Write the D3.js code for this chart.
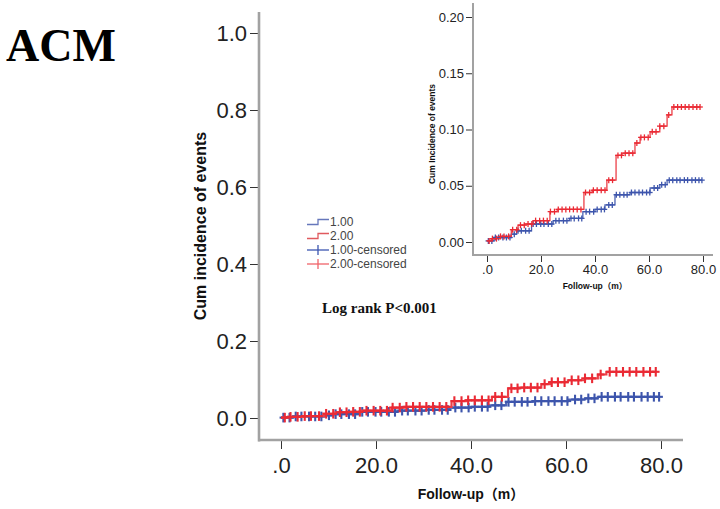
<!DOCTYPE html>
<html><head><meta charset="utf-8">
<script src="https://cdn.jsdelivr.net/npm/d3@7"></script>
<style>body{margin:0;background:#fff}svg{display:block}</style>
</head><body>
<script>
// ---- data ----
const xTicks = [0, 20, 40, 60, 80];
const xTickLabels = [".0", "20.0", "40.0", "60.0", "80.0"];
const yTicks = [0, 0.2, 0.4, 0.6, 0.8, 1.0];
const yTickLabels = ["0.0", "0.2", "0.4", "0.6", "0.8", "1.0"];
const insetYTicks = [0, 0.05, 0.10, 0.15, 0.20];
const insetYTickLabels = ["0.00", "0.05", "0.10", "0.15", "0.20"];

// group 1.00 (blue) step function
const g1Times  = [0, 2.6, 9.0, 11.0, 16.5, 24.5, 30.5, 35.5, 40.0, 43.7, 47.4, 53.0, 60.4, 64.0, 66.7];
const g1Values = [0.001, 0.004, 0.007, 0.010, 0.016, 0.019, 0.021, 0.027, 0.029, 0.033, 0.042, 0.044, 0.048, 0.051, 0.055];
const g1End = 79.6;
const g1Censored = [0.5, 1.8, 3.1, 4.3, 5.9, 7.2, 8.5, 10.1, 11.5, 12.7, 14.3, 15.6, 17.1, 18.3, 19.9, 21.1, 22.7, 24.0, 25.5, 26.7, 28.3, 29.6, 31.1, 32.3, 33.9, 35.1, 36.7, 38.0, 39.5, 40.8, 42.3, 43.5, 45.1, 46.4, 47.9, 49.2, 50.7, 51.9, 53.5, 54.8, 56.3, 57.6, 59.1, 60.3, 61.9, 63.2, 64.7, 66.0, 67.5, 68.8, 70.3, 71.5, 73.1, 74.3, 75.9, 77.2, 78.5, 79.6];

// group 2.00 (red) step function
const g2Times  = [0, 1.5, 5.0, 9.0, 11.5, 14.0, 17.0, 23.3, 26.0, 35.9, 39.0, 44.4, 47.8, 50.0, 54.8, 56.7, 60.4, 64.0, 66.7, 68.5];
const g2Values = [0.001, 0.003, 0.005, 0.011, 0.015, 0.016, 0.019, 0.027, 0.029, 0.044, 0.046, 0.055, 0.077, 0.079, 0.088, 0.093, 0.098, 0.103, 0.113, 0.120];
const g2End = 78.9;
const g2Censored = [0.8, 2.0, 3.5, 5.0, 6.3, 8.0, 9.5, 11.0, 12.4, 13.8, 15.2, 16.6, 18.0, 19.5, 20.9, 22.3, 23.5, 25.0, 26.4, 27.8, 29.2, 30.6, 32.0, 33.4, 34.8, 36.5, 38.0, 39.4, 40.8, 42.3, 43.7, 45.1, 46.5, 48.5, 49.8, 51.2, 52.6, 54.0, 55.5, 57.0, 58.3, 59.7, 61.2, 62.6, 64.0, 65.5, 67.3, 69.2, 70.6, 72.0, 73.4, 74.8, 76.3, 77.7, 78.9];

const legendLabels = ["1.00", "2.00", "1.00-censored", "2.00-censored"];

// ---- styles ----
const BLUE = "#3d55ac", BLUE_LINE = "#4e64b4";
const RED = "#ea2a34", RED_LINE = "#ec4048";
const FRAME = "#a2a2a2";

const svg = d3.select("body").append("svg").attr("width", 720).attr("height", 509);

function stepPoints(times, values, end) {
  const pts = times.map((t, i) => [t, values[i]]);
  pts.push([end, values[values.length - 1]]);
  return pts;
}
function valueAt(times, values, t) {
  let v = values[0];
  for (let i = 0; i < times.length; i++) if (times[i] <= t) v = values[i];
  return v;
}

const series = [
  {times: g1Times, values: g1Values, end: g1End, cens: g1Censored, color: BLUE, line: BLUE_LINE},
  {times: g2Times, values: g2Values, end: g2End, cens: g2Censored, color: RED, line: RED_LINE}
];

function drawPanel(g, x, y, opt) {
  series.forEach(s => {
    const line = d3.line().x(d => x(d[0])).y(d => y(d[1])).curve(d3.curveStepAfter);
    g.append("path").attr("d", line(stepPoints(s.times, s.values, s.end)))
      .attr("fill", "none").attr("stroke", s.line).attr("stroke-width", opt.lw);
    const cg = g.append("g").attr("stroke", s.color).attr("stroke-width", opt.mw);
    s.cens.forEach(t => {
      const cx = x(t), cy = y(valueAt(s.times, s.values, t));
      cg.append("line").attr("x1", cx).attr("x2", cx).attr("y1", cy - opt.mv).attr("y2", cy + opt.mv);
      cg.append("line").attr("x1", cx - opt.mh).attr("x2", cx + opt.mh).attr("y1", cy).attr("y2", cy);
    });
  });
}

// ---- main chart ----
const xMain = d3.scaleLinear().domain([0, 80]).range([281, 661]);
const yMain = d3.scaleLinear().domain([0, 1]).range([418, 33]);

const yAx = svg.append("g").attr("transform", "translate(258,0)")
  .call(d3.axisLeft(yMain).tickValues(yTicks).tickFormat((d, i) => yTickLabels[i]).tickSize(8).tickPadding(3));
yAx.select(".domain").remove();
yAx.selectAll("text").attr("font-family", "Arial, 'Liberation Sans', sans-serif").attr("font-size", 22).attr("fill", "#222");
yAx.selectAll(".tick line").attr("stroke", "#333");

const xAx = svg.append("g").attr("transform", "translate(0,441)")
  .call(d3.axisBottom(xMain).tickValues(xTicks).tickFormat((d, i) => xTickLabels[i]).tickSize(8).tickPadding(8));
xAx.select(".domain").remove();
xAx.selectAll("text").attr("font-family", "Arial, 'Liberation Sans', sans-serif").attr("font-size", 22).attr("fill", "#222");
xAx.selectAll(".tick line").attr("stroke", "#333");

svg.append("line").attr("x1", 259).attr("x2", 259).attr("y1", 12).attr("y2", 441.5).attr("stroke", FRAME).attr("stroke-width", 2.6);
svg.append("line").attr("x1", 258).attr("x2", 683).attr("y1", 440).attr("y2", 440).attr("stroke", FRAME).attr("stroke-width", 2.6);

drawPanel(svg.append("g"), xMain, yMain, {lw: 2.2, mw: 2.1, mv: 4.8, mh: 3.8});

svg.append("text").attr("transform", "translate(206,226) rotate(-90)").attr("text-anchor", "middle")
  .attr("font-family", "Arial, 'Liberation Sans', sans-serif").attr("font-weight", "bold").attr("font-size", 16)
  .attr("fill", "#111").text("Cum incidence of events");
svg.append("text").attr("x", 471).attr("y", 499).attr("text-anchor", "middle")
  .attr("font-family", "Arial, 'Liberation Sans', 'Noto Sans CJK SC', sans-serif").attr("font-weight", "bold").attr("font-size", 14)
  .attr("fill", "#111").text("Follow-up（m）");

// title & annotation
svg.append("text").attr("x", 6).attr("y", 61).attr("font-family", "'Times New Roman', 'Liberation Serif', serif")
  .attr("font-weight", "bold").attr("font-size", 46).attr("fill", "#000").text("ACM");
svg.append("text").attr("x", 322).attr("y", 313).attr("font-family", "'Times New Roman', 'Liberation Serif', serif")
  .attr("font-weight", "bold").attr("font-size", 15).attr("fill", "#111").text("Log rank P<0.001");

// legend
const legY = [222, 236, 250, 264];
const lg = svg.append("g");
legendLabels.forEach((lab, i) => {
  const cy = legY[i];
  if (i < 2) {
    const c = i === 0 ? "#6677bb" : "#e05a5e";
    lg.append("path").attr("d", `M307,${cy + 2.5}H318V${cy - 2.5}H329`).attr("fill", "none").attr("stroke", c).attr("stroke-width", 1.3);
  } else {
    const c = i === 2 ? "#3b55b0" : "#f0646a";
    lg.append("line").attr("x1", 307).attr("x2", 329).attr("y1", cy).attr("y2", cy).attr("stroke", c).attr("stroke-width", 1.3);
    lg.append("line").attr("x1", 318).attr("x2", 318).attr("y1", cy - 5).attr("y2", cy + 5).attr("stroke", c).attr("stroke-width", 1.3);
  }
  lg.append("text").attr("x", 330).attr("y", cy + 4.3).attr("font-family", "Arial, 'Liberation Sans', sans-serif")
    .attr("font-size", 12).attr("fill", "#444").text(lab);
});

// ---- inset ----
const xIn = d3.scaleLinear().domain([0, 80]).range([487, 703]);
const yIn = d3.scaleLinear().domain([0, 0.2]).range([242, 17]);

const yAxI = svg.append("g").attr("transform", "translate(472,0)")
  .call(d3.axisLeft(yIn).tickValues(insetYTicks).tickFormat((d, i) => insetYTickLabels[i]).tickSize(6).tickPadding(2));
yAxI.select(".domain").remove();
yAxI.selectAll("text").attr("font-family", "Arial, 'Liberation Sans', sans-serif").attr("font-size", 13).attr("fill", "#222");
yAxI.selectAll(".tick line").attr("stroke", "#333");

const xAxI = svg.append("g").attr("transform", "translate(0,256)")
  .call(d3.axisBottom(xIn).tickValues(xTicks).tickFormat((d, i) => xTickLabels[i]).tickSize(6).tickPadding(2.5));
xAxI.select(".domain").remove();
xAxI.selectAll("text").attr("font-family", "Arial, 'Liberation Sans', sans-serif").attr("font-size", 13).attr("fill", "#222");
xAxI.selectAll(".tick line").attr("stroke", "#333");

svg.append("line").attr("x1", 473).attr("x2", 473).attr("y1", 3).attr("y2", 256).attr("stroke", FRAME).attr("stroke-width", 2);
svg.append("line").attr("x1", 472).attr("x2", 713).attr("y1", 255).attr("y2", 255).attr("stroke", FRAME).attr("stroke-width", 2);

drawPanel(svg.append("g"), xIn, yIn, {lw: 1.3, mw: 1.3, mv: 3, mh: 2.8});

svg.append("text").attr("transform", "translate(435,134) rotate(-90)").attr("text-anchor", "middle")
  .attr("font-family", "Arial, 'Liberation Sans', sans-serif").attr("font-weight", "bold").attr("font-size", 8.5)
  .attr("fill", "#111").text("Cum Incidence of events");
svg.append("text").attr("x", 595).attr("y", 289).attr("text-anchor", "middle")
  .attr("font-family", "Arial, 'Liberation Sans', 'Noto Sans CJK SC', sans-serif").attr("font-weight", "bold").attr("font-size", 8.5)
  .attr("fill", "#111").text("Follow-up（m）");
</script>
</body></html>
